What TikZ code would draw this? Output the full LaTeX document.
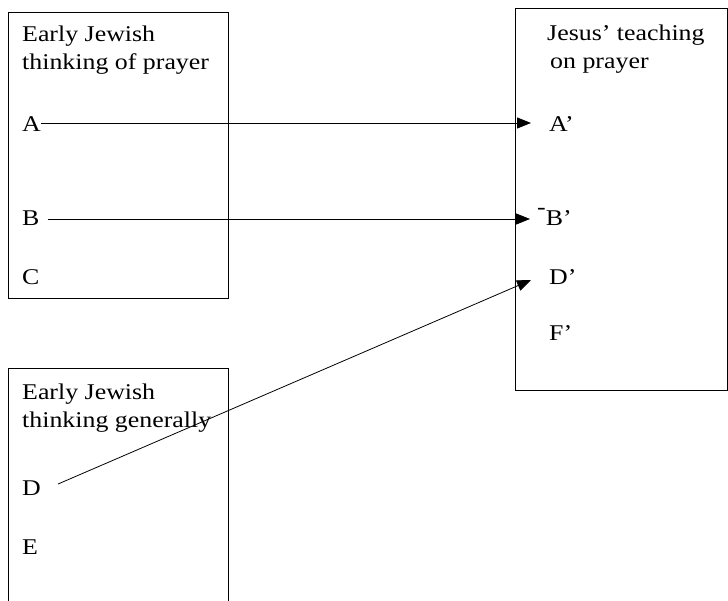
\documentclass[tikz,border=0pt]{standalone}
\usepackage{fontspec}
\setmainfont{Liberation Serif}[FakeStretch=1.15]
\usetikzlibrary{arrows.meta, positioning}

\begin{document}
\begin{tikzpicture}[x=1pt, y=-1pt,
        item/.style={inner sep=0pt, anchor=base west, font=\fontsize{22.5}{28}\selectfont, align=left},
        frame/.style={line width=0.8pt},
        link/.style={line width=0.8pt, -{Triangle[length=14pt, width=11pt]}}]
        \useasboundingbox (0,0) rectangle (728,601);
        % boxes
        \draw[frame] (8,12) rectangle (228,298);
        \draw[frame] (515,8) rectangle (727,390);
        \draw[frame] (8,601) -- (8,368) -- (228,368) -- (228,601);

        % early jewish thinking of prayer
        \node[item] (prayer) at (22,70) {Early Jewish\\thinking of prayer};
        \node[item] (a) at (22,132) {A};
        \node[item] (b) at (22,226) {B};
        \node[item] (c) at (22,285) {C};

        % jesus' teaching on prayer
        \node[item] (jesus) at (547,69) {Jesus’ teaching\\\kern3pt on prayer};
        \node[item] (a1) at (549,132) {A’};
        \node[item] (b1) at (537,226) {\raisebox{0.5em}{-}B’};
        \node[item] (d1) at (549,285) {D’};
        \node[item] (f1) at (549,341) {F’};

        % early jewish thinking generally
        \node[item] (general) at (22,427) {Early Jewish\\thinking generally};
        \node[item] (d) at (22,495) {D};
        \node[item] (e) at (22,554) {E};

        \draw[link] ([yshift=9pt]a.base east) -- ([xshift=-18pt, yshift=9pt]a1.base west);
        \draw[link] ([xshift=8pt, yshift=7pt]b.base east) -- ([xshift=-7pt, yshift=7pt]b1.base west);
        \draw[link] ([xshift=17pt, yshift=11pt]d.base east) -- ([xshift=-18pt, yshift=5pt]d1.base west);
\end{tikzpicture}
\end{document}
